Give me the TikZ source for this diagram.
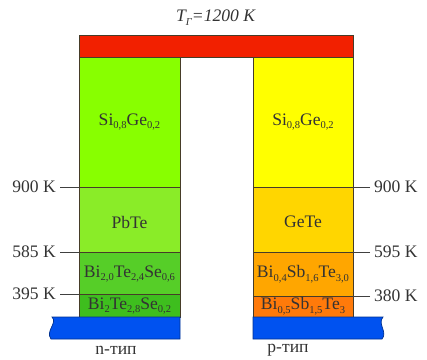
\documentclass[tikz,border=0pt]{standalone}
\usepackage{fontspec}
\setmainfont{Liberation Serif}
\usepackage{tikz}
\usetikzlibrary{positioning}

\definecolor{hotred}{RGB}{242,32,0}
\definecolor{coldblue}{RGB}{0,82,240}
\definecolor{nA}{RGB}{136,255,0}
\definecolor{nB}{RGB}{138,236,40}
\definecolor{nC}{RGB}{86,206,40}
\definecolor{nD}{RGB}{62,190,30}
\definecolor{pA}{RGB}{255,255,0}
\definecolor{pB}{RGB}{255,214,0}
\definecolor{pC}{RGB}{255,166,0}
\definecolor{pD}{RGB}{255,122,10}
\definecolor{edge}{RGB}{70,60,40}
\newcommand{\ix}[1]{\raisebox{-0.22em}{\fontsize{9}{10}\selectfont #1}}

\begin{document}
\begin{tikzpicture}[x=0.03cm,y=-0.03cm,
  every node/.style={font=\rmfamily\fontsize{15}{18}\selectfont,text=black!80},
  layer/.style={draw=edge,line width=0.6pt},
  tick/.style={draw=black!75,line width=0.6pt}]
\useasboundingbox (0,0) rectangle (427,359);

% hot side
\filldraw[layer,fill=hotred] (79,35) rectangle (353,57);
\node (title) at (216,18) {\textit{T\ix{Г}=1200 K}};

% n leg
\filldraw[layer,fill=nA] (79,57) rectangle (180,187);
\filldraw[layer,fill=nB] (79,187) rectangle (180,252);
\filldraw[layer,fill=nC] (79,252) rectangle (180,294);
\filldraw[layer,fill=nD] (79,294) rectangle (180,317);
\node (nSiGe) at (129.5,122) {Si\ix{0,8}Ge\ix{0,2}};
\node (nPbTe) at (129.5,222) {PbTe};
\node (nBiA) at (129.5,274) {Bi\ix{2,0}Te\ix{2,4}Se\ix{0,6}};
\node (nBiB) at (129.5,306) {Bi\ix{2}Te\ix{2,8}Se\ix{0,2}};

% p leg
\filldraw[layer,fill=pA] (253,57) rectangle (353,187);
\filldraw[layer,fill=pB] (253,187) rectangle (353,252);
\filldraw[layer,fill=pC] (253,252) rectangle (353,296);
\filldraw[layer,fill=pD] (253,296) rectangle (353,317);
\node (pSiGe) at (303,122) {Si\ix{0,8}Ge\ix{0,2}};
\node (pGeTe) at (303,222) {GeTe};
\node (pBiA) at (303,274) {Bi\ix{0,4}Sb\ix{1,6}Te\ix{3,0}};
\node (pBiB) at (303,306) {Bi\ix{0,5}Sb\ix{1,5}Te\ix{3}};

% cold side
\filldraw[layer,draw=coldblue!60!black,fill=coldblue] (180,317) -- (52,317)
  .. controls (58,323) and (45,331) .. (51,339) -- (180,339) -- cycle;
\filldraw[layer,draw=coldblue!60!black,fill=coldblue] (253,317) -- (383,317)
  .. controls (377,324) and (388,332) .. (382,339) -- (253,339) -- cycle;
\node (nType) at (116,350) {n-тип};
\node (pType) at (288,350) {p-тип};

% temperature marks
\node[anchor=east] (tn900) at (60,187) {900 K};
\node[anchor=east] (tn585) at (60,252) {585 K};
\node[anchor=east] (tn395) at (60,294) {395 K};
\node[anchor=west] (tp900) at (370,187) {900 K};
\node[anchor=west] (tp595) at (370,252) {595 K};
\node[anchor=west] (tp380) at (370,296) {380 K};
\coordinate (ln900) at (79,187);
\coordinate (ln585) at (79,252);
\coordinate (ln395) at (79,294);
\coordinate (lp900) at (353,187);
\coordinate (lp595) at (353,252);
\coordinate (lp380) at (353,296);
\draw[tick] (tn900) -- (ln900);
\draw[tick] (tn585) -- (ln585);
\draw[tick] (tn395) -- (ln395);
\draw[tick] (tp900) -- (lp900);
\draw[tick] (tp595) -- (lp595);
\draw[tick] (tp380) -- (lp380);
\end{tikzpicture}
\end{document}
